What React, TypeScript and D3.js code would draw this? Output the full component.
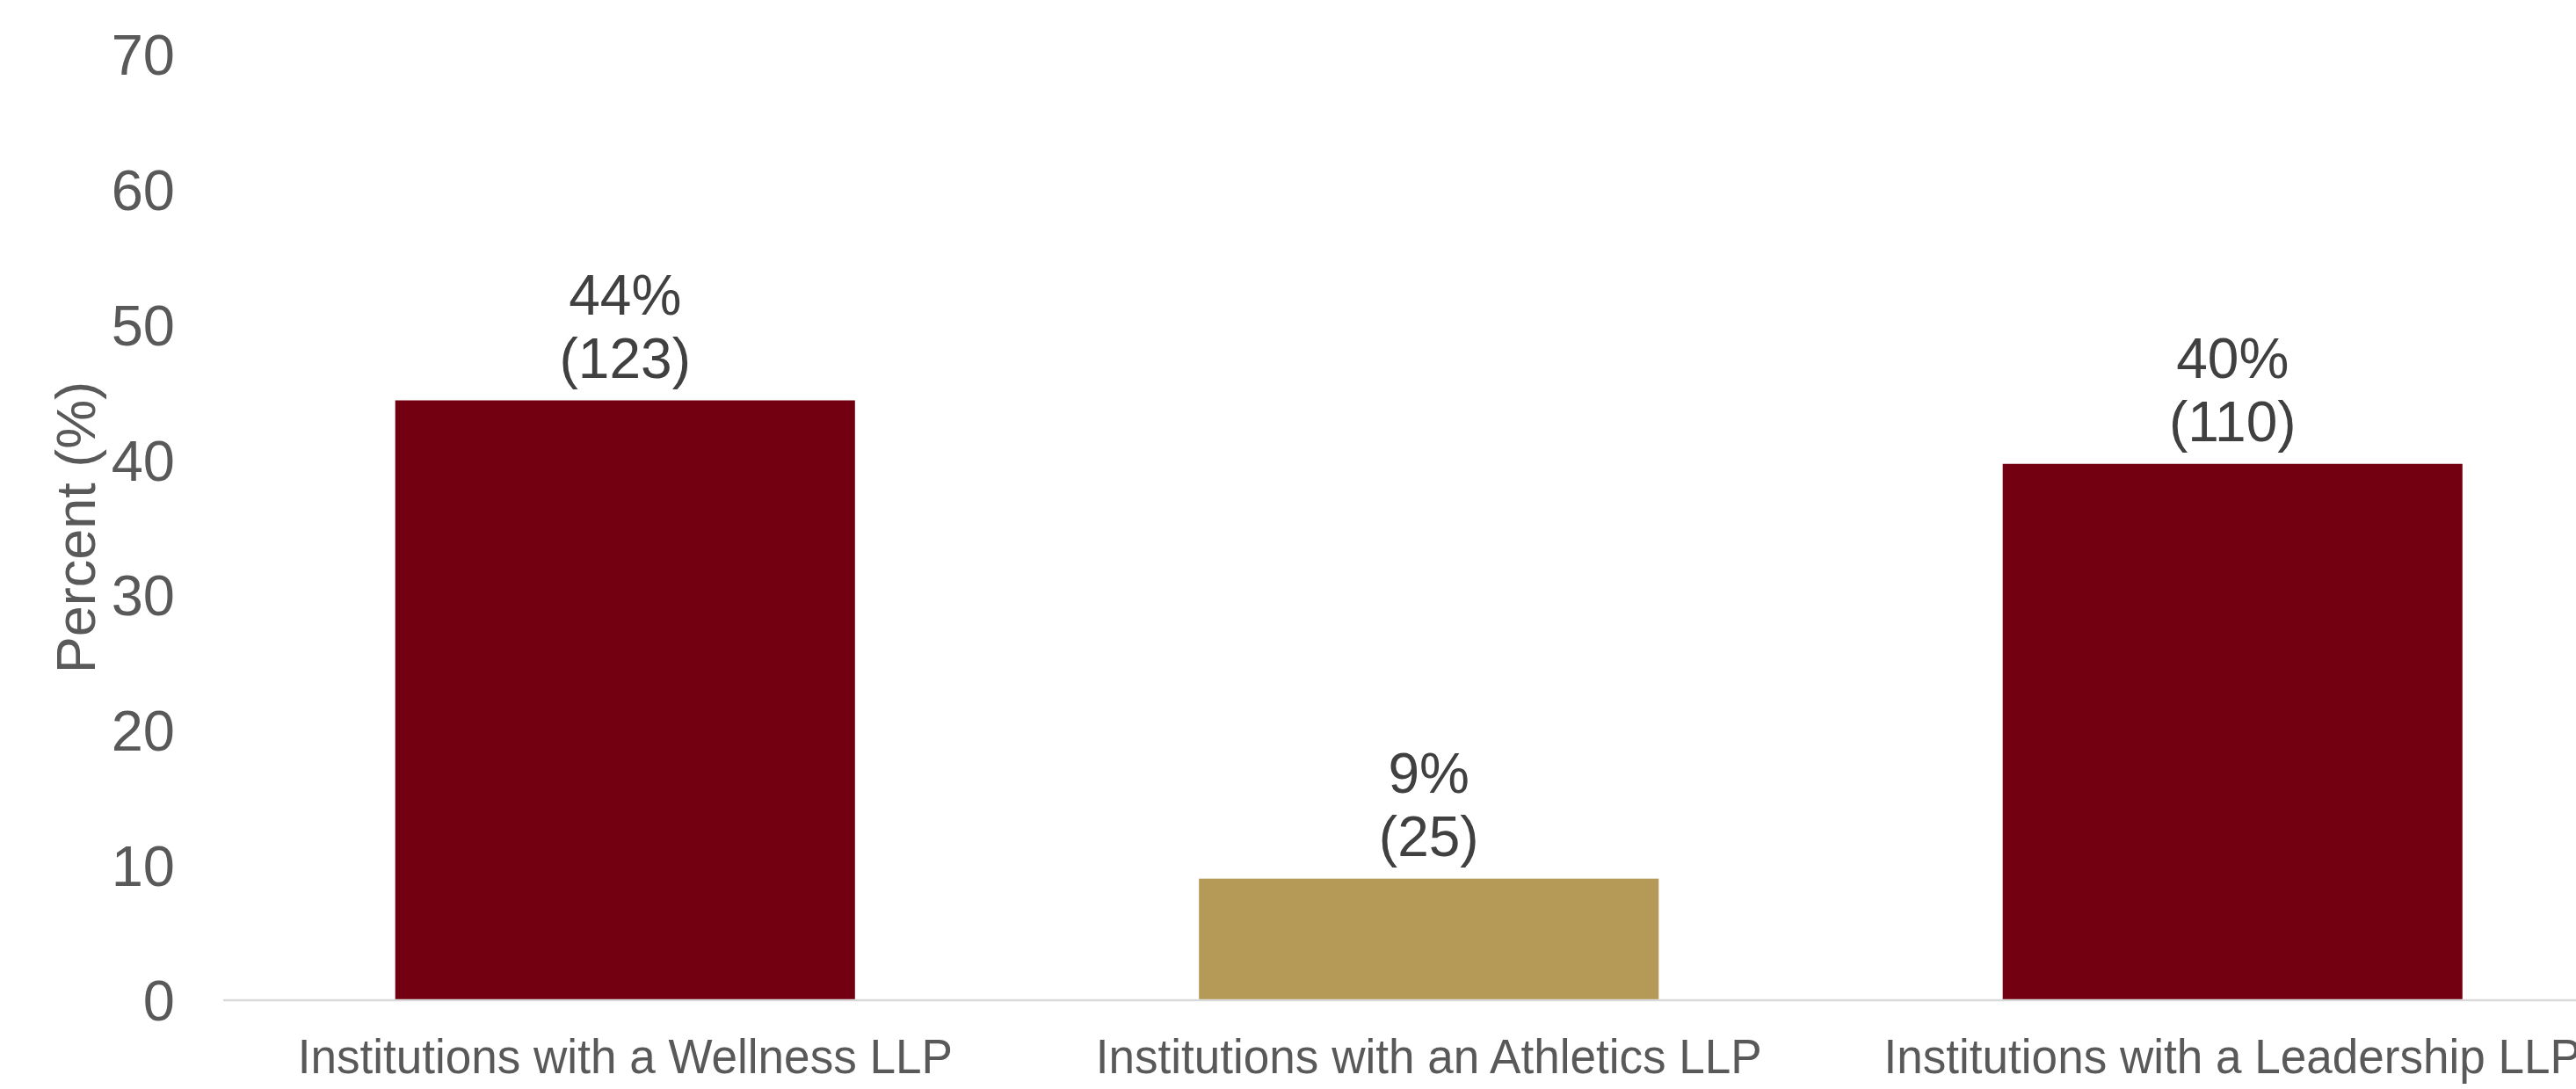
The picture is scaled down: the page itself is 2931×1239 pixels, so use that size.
import React from "react";
import * as d3 from "d3";

const categories: string[] = [
  "Institutions with a Wellness LLP",
  "Institutions with an Athletics LLP",
  "Institutions with a Leadership LLP",
];
const percents: number[] = [44.4, 9.0, 39.7];
const counts: number[] = [123, 25, 110];
const percentLabels: string[] = ["44%", "9%", "40%"];
const barColors: string[] = ["#730010", "#B59A57", "#730010"];
const yTicks: number[] = [0, 10, 20, 30, 40, 50, 60, 70];

const W = 2931;
const H = 1239;

export default function App() {
  const x = d3
    .scaleBand<string>()
    .domain(categories)
    .range([254, 254 + 3 * 914.5])
    .paddingInner(0.428)
    .paddingOuter(0.214);
  const y = d3.scaleLinear().domain([0, 70]).range([1138, 62]);
  const font = "'Liberation Sans', Arial, sans-serif";

  return (
    <svg
      width={W}
      height={H}
      style={{ position: "absolute", left: 0, top: 0, background: "#fff" }}
      fontFamily={font}
    >
      <rect x={0} y={0} width={W} height={H} fill="#fff" />
      {yTicks.map((t) => (
        <text
          key={t}
          x={199}
          y={y(t)}
          dy="0.36em"
          textAnchor="end"
          fontSize={65}
          fill="#595959"
        >
          {t}
        </text>
      ))}
      <text
        transform={`translate(108, 600) rotate(-90)`}
        textAnchor="middle"
        fontSize={63}
        fill="#595959"
      >
        Percent (%)
      </text>
      {categories.map((c, i) => {
        const bx = x(c) as number;
        const top = y(percents[i]);
        const cx = bx + x.bandwidth() / 2;
        return (
          <g key={c}>
            <rect
              x={bx}
              y={top}
              width={x.bandwidth()}
              height={y(0) - top}
              fill={barColors[i]}
            />
            <text
              x={cx}
              y={top - 98}
              textAnchor="middle"
              fontSize={64}
              fill="#404040"
            >
              {percentLabels[i]}
            </text>
            <text
              x={cx}
              y={top - 26}
              textAnchor="middle"
              fontSize={64}
              fill="#404040"
            >
              {`(${counts[i]})`}
            </text>
            <text
              transform={`translate(${cx}, 1221) scale(0.965, 1)`}
              textAnchor="middle"
              fontSize={55}
              fill="#595959"
            >
              {c}
            </text>
          </g>
        );
      })}
      <line
        x1={254}
        x2={W}
        y1={y(0)}
        y2={y(0)}
        stroke="#d9d9d9"
        strokeWidth={2.5}
      />
    </svg>
  );
}
